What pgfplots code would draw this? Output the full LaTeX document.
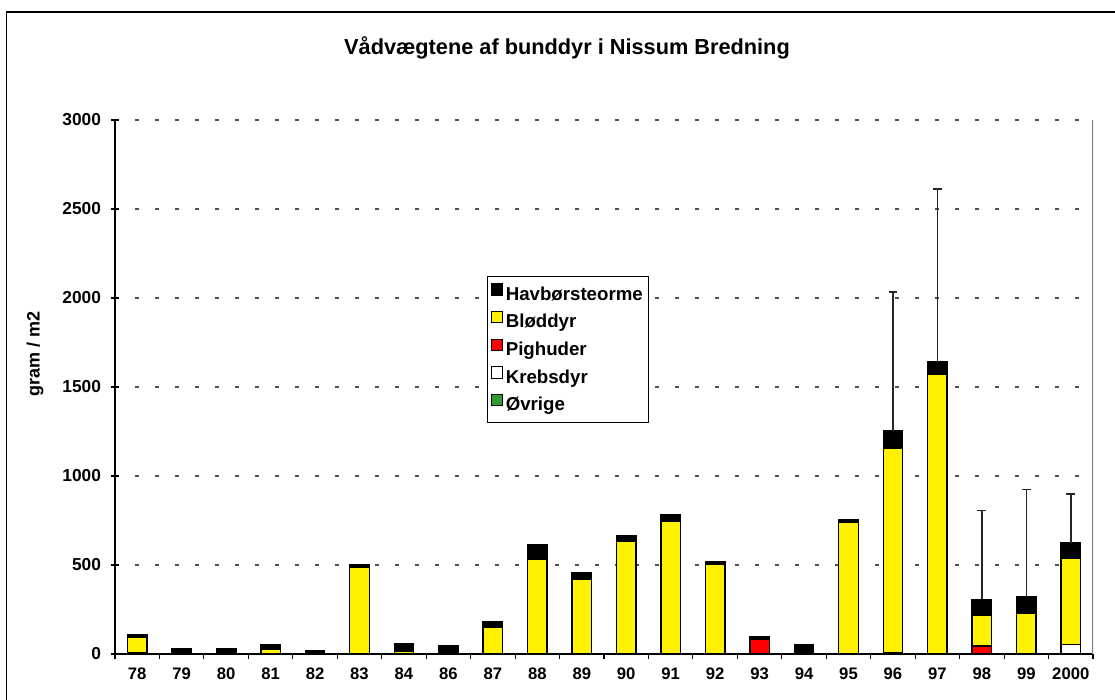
\documentclass[border=0pt]{standalone}
\usepackage{fontspec}
\setmainfont{Liberation Sans}
\usepackage{pgfplots}
\pgfplotsset{compat=1.18}
\definecolor{gridgray}{RGB}{80,80,80}
\definecolor{ovgreen}{RGB}{51,153,51}
\begin{document}
\begin{tikzpicture}
\useasboundingbox (0,0) rectangle (836.25pt,525pt);
\draw[line width=1.1pt] (5pt,0pt) -- (5pt,516pt) -- (836.25pt,516pt);
\node[font=\bfseries\fontsize{16.3}{19}\selectfont] at (425.25pt,489pt) {Vådvægtene af bunddyr i Nissum Bredning};
\begin{axis}[
  at={(86.25pt,34.5pt)}, anchor=south west,
  scale only axis, width=733.5pt, height=400.5pt,
  ybar stacked, bar width=14.6pt,
  xmin=-0.5, xmax=21.5, ymin=0, ymax=3000,
  axis x line*=bottom, axis y line*=left,
  axis line style={-, black, line width=0.9pt},
  xtick={0,...,21},
  xticklabels={78,79,80,81,82,83,84,86,87,88,89,90,91,92,93,94,95,96,97,98,99,2000},
  major x tick style={draw=none},
  minor xtick={-0.5,0.5,...,21.5},
  minor tick length=4pt,
  xtick align=outside,
  ytick={0,500,...,3000},
  ytick align=center,
  major tick length=6pt,
  tick style={black, line width=0.8pt},
  ymajorgrids,
  grid style={gridgray, line width=0.8pt, dash pattern=on 3pt off 12pt},
  yticklabel style={/pgf/number format/1000 sep={}, /pgf/number format/assume math mode=true, font=\bfseries\fontsize{13}{15}\selectfont, xshift=-4pt},
  xticklabel style={font=\bfseries\fontsize{12.5}{15}\selectfont, yshift=-1pt},
  ylabel={\fontsize{13.5}{16}\selectfont\bfseries gram / m2},
  ylabel style={at={(axis description cs:-0.0818,0.562)}, anchor=center},
  legend style={at={(axis description cs:0.3804,0.7079)}, anchor=north west, draw=black, line width=0.8pt,
     font=\bfseries\fontsize{14}{16}\selectfont, row sep=4.6pt, inner xsep=2.5pt, inner ysep=5pt,
     cells={anchor=west}},
  legend image code/.code={\draw[#1, line width=0.7pt] (0pt,-0.5pt) rectangle (8.5pt,8pt);},
  reverse legend,
  every axis plot/.append style={draw=black, line width=1pt},
]
% Øvrige
\addplot[fill=ovgreen] coordinates {(0,0) (1,0) (2,0) (3,0) (4,0) (5,0) (6,0) (7,0) (8,0) (9,0) (10,0) (11,0) (12,0) (13,0) (14,0) (15,0) (16,0) (17,0) (18,0) (19,0) (20,0) (21,0)};
% Krebsdyr
\addplot[fill=white] coordinates {(0,6) (1,0) (2,0) (3,4) (4,0) (5,2) (6,0) (7,0) (8,0) (9,0) (10,0) (11,0) (12,0) (13,0) (14,0) (15,0) (16,0) (17,8) (18,0) (19,0) (20,0) (21,55)};
% Pighuder
\addplot[fill=red] coordinates {(0,0) (1,0) (2,0) (3,0) (4,0) (5,0) (6,0) (7,0) (8,0) (9,0) (10,0) (11,0) (12,0) (13,0) (14,82) (15,0) (16,0) (17,0) (18,0) (19,45) (20,0) (21,0)};
% Bløddyr
\addplot[fill=yellow] coordinates {(0,90) (1,0) (2,0) (3,22) (4,0) (5,485) (6,16) (7,10) (8,150) (9,532) (10,421) (11,633) (12,745) (13,503) (14,0) (15,0) (16,742) (17,1145) (18,1573) (19,174) (20,228) (21,482)};
% Havbørsteorme
\addplot[fill=black, error bars/.cd, y dir=plus, y explicit, error mark=|, error bar style={draw=black!85, line width=1.1pt}, error mark options={mark size=3.3pt, line width=1.1pt, draw=black!85}]
 coordinates {(0,12) (1,30) (2,32) (3,28) (4,18) (5,15) (6,40) (7,39) (8,31) (9,81) (10,36) (11,30) (12,35) (13,15) (14,15) (15,51) (16,13)
 (17,102) +- (0,779) (18,70) +- (0,969) (19,88) +- (0,500) (20,96) +- (0,601) (21,87) +- (0,276)};
\legend{Øvrige,Krebsdyr,Pighuder,Bløddyr,Havbørsteorme}
\draw[gray, line width=1pt] (rel axis cs:1,0) -- (rel axis cs:1,1);
\end{axis}
\end{tikzpicture}
\end{document}
